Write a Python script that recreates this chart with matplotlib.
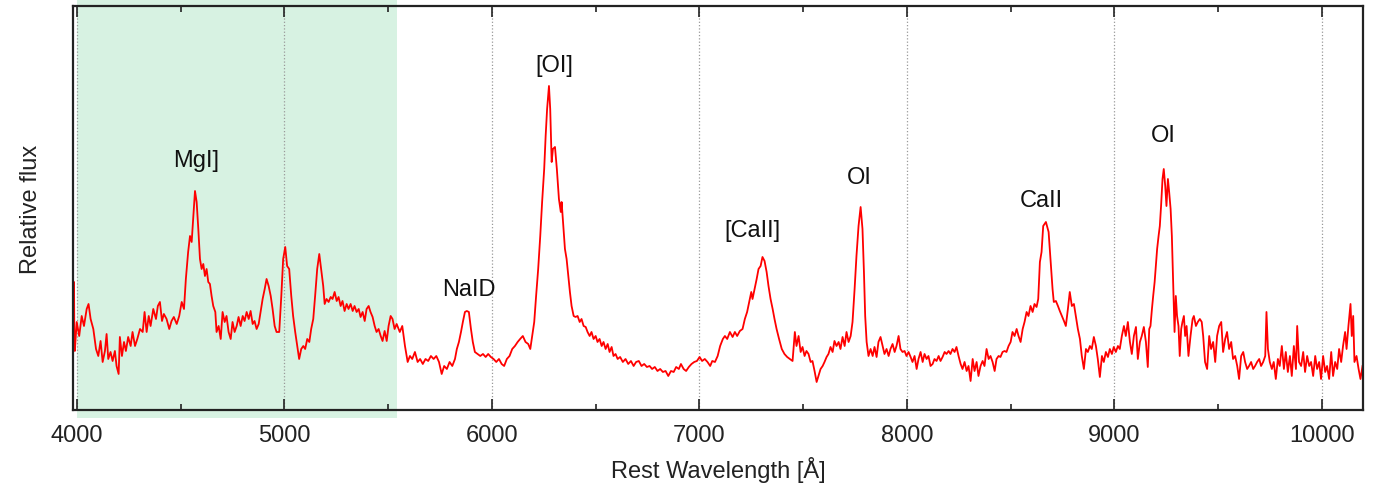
import numpy as np
import matplotlib
matplotlib.use('Agg')
import matplotlib.pyplot as plt
from matplotlib.patches import Rectangle
import matplotlib.transforms as mtransforms

plt.rcParams['font.family'] = ['Liberation Sans', 'DejaVu Sans']

# rest wavelength [A] and relative flux (arbitrary units)
wave = [3985, 3986, 3988, 3990, 3999, 4011, 4023, 4034, 4047, 4056, 4066, 4079, 4092,
        4103, 4114, 4124, 4135, 4143, 4151, 4162, 4172, 4183, 4191, 4201, 4207, 4217,
        4227, 4236, 4247, 4259, 4268, 4280, 4291, 4304, 4317, 4326, 4336, 4346, 4355,
        4368, 4381, 4390, 4400, 4410, 4419, 4432, 4445, 4456, 4467, 4481, 4493, 4505,
        4516, 4525, 4536, 4545, 4553, 4561, 4569, 4577, 4585, 4593, 4601, 4609, 4617,
        4625, 4633, 4641, 4649, 4657, 4667, 4673, 4683, 4693, 4702, 4712, 4721, 4731,
        4741, 4750, 4760, 4770, 4779, 4789, 4799, 4808, 4818, 4828, 4837, 4847, 4856,
        4866, 4876, 4885, 4895, 4905, 4914, 4924, 4934, 4943, 4953, 4962, 4975, 4985,
        4994, 5004, 5013, 5023, 5033, 5042, 5052, 5062, 5071, 5081, 5091, 5100, 5110,
        5120, 5129, 5139, 5148, 5158, 5168, 5177, 5187, 5194, 5203, 5213, 5223, 5232,
        5242, 5252, 5261, 5271, 5280, 5290, 5300, 5309, 5319, 5329, 5338, 5348, 5358,
        5367, 5377, 5387, 5396, 5406, 5415, 5425, 5435, 5444, 5454, 5464, 5473, 5483,
        5493, 5502, 5512, 5521, 5531, 5541, 5556, 5568, 5581, 5594, 5605, 5616, 5629,
        5642, 5654, 5667, 5680, 5693, 5706, 5719, 5732, 5745, 5758, 5770, 5783, 5796,
        5809, 5822, 5831, 5841, 5851, 5860, 5870, 5879, 5889, 5899, 5908, 5918, 5931,
        5944, 5957, 5970, 5982, 5995, 6008, 6021, 6034, 6047, 6059, 6072, 6085, 6098,
        6111, 6124, 6136, 6149, 6162, 6175, 6185, 6194, 6204, 6213, 6223, 6233, 6242,
        6252, 6259, 6266, 6275, 6281, 6288, 6294, 6304, 6313, 6323, 6332, 6336, 6344,
        6352, 6360, 6368, 6376, 6384, 6394, 6403, 6413, 6423, 6432, 6442, 6452, 6461,
        6471, 6480, 6490, 6500, 6509, 6519, 6529, 6538, 6548, 6558, 6567, 6577, 6586,
        6596, 6606, 6618, 6631, 6644, 6657, 6670, 6683, 6695, 6708, 6721, 6734, 6747,
        6760, 6772, 6785, 6798, 6811, 6824, 6837, 6850, 6863, 6876, 6888, 6901, 6911,
        6924, 6936, 6949, 6962, 6975, 6988, 7001, 7013, 7026, 7039, 7052, 7062, 7075,
        7088, 7100, 7113, 7123, 7134, 7147, 7160, 7171, 7182, 7195, 7208, 7219, 7230,
        7240, 7250, 7256, 7266, 7276, 7285, 7295, 7304, 7314, 7324, 7333, 7343, 7353,
        7362, 7372, 7384, 7397, 7410, 7423, 7436, 7449, 7460, 7468, 7478, 7488, 7497,
        7507, 7516, 7526, 7536, 7545, 7555, 7565, 7574, 7584, 7594, 7603, 7613, 7622,
        7632, 7642, 7651, 7661, 7671, 7680, 7690, 7700, 7709, 7719, 7729, 7738, 7748,
        7757, 7767, 7777, 7786, 7793, 7799, 7806, 7815, 7825, 7835, 7844, 7854, 7863,
        7873, 7883, 7892, 7902, 7912, 7921, 7931, 7941, 7950, 7960, 7969, 7979, 7989,
        7998, 8008, 8018, 8027, 8037, 8047, 8056, 8066, 8076, 8085, 8095, 8104, 8114,
        8124, 8133, 8143, 8153, 8162, 8172, 8182, 8191, 8201, 8210, 8220, 8230, 8239,
        8249, 8259, 8268, 8278, 8288, 8297, 8307, 8317, 8326, 8336, 8345, 8355, 8365,
        8374, 8384, 8394, 8403, 8413, 8423, 8432, 8442, 8451, 8461, 8471, 8480, 8490,
        8500, 8509, 8519, 8529, 8538, 8548, 8558, 8567, 8577, 8586, 8596, 8606, 8615,
        8625, 8633, 8641, 8649, 8657, 8670, 8683, 8692, 8702, 8708, 8718, 8728, 8737,
        8747, 8757, 8766, 8776, 8785, 8795, 8805, 8814, 8824, 8834, 8843, 8853, 8863,
        8872, 8882, 8891, 8901, 8911, 8920, 8930, 8940, 8949, 8959, 8969, 8978, 8988,
        8997, 9007, 9017, 9026, 9036, 9046, 9055, 9065, 9075, 9084, 9094, 9104, 9113,
        9123, 9132, 9142, 9152, 9161, 9168, 9174, 9181, 9187, 9194, 9200, 9206, 9213,
        9219, 9225, 9232, 9238, 9245, 9251, 9258, 9264, 9271, 9277, 9283, 9290, 9296,
        9302, 9309, 9315, 9322, 9328, 9335, 9341, 9348, 9357, 9367, 9377, 9383, 9393,
        9402, 9412, 9421, 9428, 9437, 9447, 9457, 9466, 9476, 9486, 9495, 9505, 9515,
        9524, 9534, 9543, 9553, 9563, 9572, 9582, 9592, 9601, 9611, 9621, 9630, 9640,
        9649, 9659, 9669, 9678, 9688, 9698, 9707, 9717, 9727, 9733, 9740, 9749, 9759,
        9768, 9778, 9788, 9797, 9807, 9817, 9826, 9836, 9846, 9855, 9865, 9875, 9881,
        9890, 9900, 9910, 9919, 9929, 9939, 9948, 9958, 9968, 9977, 9987, 9996, 10006,
        10016, 10025, 10035, 10045, 10054, 10064, 10074, 10083, 10093, 10102, 10112,
        10119, 10128, 10138, 10144, 10151, 10157, 10167, 10177, 10186, 10196]

flux = [70, 128, 60, 59, 88, 74, 94, 84, 101, 106, 91, 81, 61,
        54, 69, 48, 59, 76, 51, 58, 49, 59, 44, 36, 73, 54,
        68, 59, 73, 64, 78, 64, 71, 81, 78, 98, 78, 94, 84,
        101, 91, 104, 108, 89, 96, 91, 81, 89, 93, 86, 94, 108,
        101, 131, 158, 174, 168, 194, 219, 208, 181, 151, 141, 146, 134,
        141, 128, 126, 114, 104, 98, 78, 84, 71, 98, 88, 94, 78,
        71, 88, 78, 84, 93, 84, 94, 89, 98, 91, 99, 86, 89,
        81, 86, 98, 111, 121, 131, 124, 114, 101, 84, 78, 78, 114,
        151, 163, 144, 141, 114, 94, 78, 64, 51, 61, 64, 61, 71,
        68, 81, 91, 114, 141, 156, 141, 124, 106, 111, 108, 113, 111,
        118, 109, 113, 104, 109, 99, 106, 101, 106, 99, 104, 98, 101,
        93, 98, 89, 101, 104, 98, 93, 84, 78, 81, 74, 69, 79,
        69, 84, 94, 91, 81, 86, 78, 84, 64, 48, 54, 51, 58,
        48, 51, 46, 51, 49, 54, 51, 54, 48, 36, 44, 41, 48,
        44, 51, 61, 68, 78, 88, 98, 99, 98, 81, 68, 58, 56,
        54, 56, 53, 56, 53, 51, 48, 51, 46, 44, 51, 54, 61,
        64, 68, 71, 74, 68, 66, 61, 74, 88, 114, 141, 174, 208,
        241, 274, 301, 324, 301, 248, 261, 263, 241, 211, 198, 208, 184,
        161, 151, 134, 118, 104, 94, 93, 94, 88, 91, 84, 83, 78,
        74, 78, 71, 74, 68, 71, 64, 68, 61, 66, 58, 63, 54,
        56, 51, 53, 48, 51, 46, 49, 44, 48, 49, 44, 46, 43,
        44, 41, 43, 39, 41, 38, 39, 34, 39, 38, 43, 41, 46,
        41, 39, 43, 46, 48, 49, 53, 49, 51, 48, 44, 49, 48,
        54, 64, 71, 74, 71, 78, 73, 78, 74, 79, 81, 91, 98,
        108, 118, 111, 121, 131, 141, 144, 153, 149, 138, 124, 111, 101,
        91, 81, 71, 61, 56, 53, 51, 49, 78, 64, 74, 58, 63,
        54, 59, 56, 48, 49, 39, 28, 34, 41, 44, 48, 53, 56,
        63, 58, 69, 64, 68, 61, 73, 64, 78, 68, 74, 88, 121,
        154, 184, 203, 181, 138, 94, 68, 54, 61, 54, 63, 53, 68,
        73, 64, 56, 61, 54, 61, 66, 58, 64, 74, 61, 58, 59,
        54, 58, 53, 48, 54, 41, 51, 58, 48, 56, 51, 54, 44,
        46, 51, 49, 54, 49, 53, 58, 56, 59, 56, 61, 58, 63,
        54, 46, 41, 48, 39, 44, 29, 51, 39, 48, 34, 44, 49,
        44, 61, 51, 54, 48, 39, 51, 54, 53, 58, 59, 58, 64,
        68, 78, 74, 81, 74, 68, 81, 88, 98, 94, 104, 98, 106,
        103, 111, 148, 158, 184, 188, 178, 151, 121, 108, 109, 104, 99,
        94, 89, 84, 101, 118, 104, 106, 94, 81, 71, 54, 41, 61,
        58, 64, 61, 73, 64, 51, 33, 54, 48, 58, 53, 61, 56,
        63, 58, 64, 61, 74, 84, 74, 88, 68, 56, 74, 83, 51,
        68, 74, 83, 68, 43, 81, 84, 101, 114, 128, 144, 161, 174,
        184, 204, 231, 241, 224, 204, 231, 218, 201, 174, 128, 78, 114,
        94, 84, 54, 81, 88, 94, 74, 84, 54, 74, 91, 94, 84,
        88, 91, 88, 74, 48, 41, 74, 61, 68, 48, 74, 84, 88,
        58, 71, 78, 61, 68, 51, 54, 44, 31, 54, 58, 48, 41,
        44, 48, 41, 44, 48, 51, 44, 48, 54, 98, 61, 48, 41,
        48, 31, 51, 44, 64, 41, 58, 38, 54, 34, 64, 41, 84,
        48, 44, 58, 38, 54, 44, 48, 34, 54, 41, 48, 31, 54,
        38, 44, 31, 58, 34, 48, 41, 61, 48, 64, 78,
        61, 84, 106, 74, 94, 48, 54, 41, 31, 44]

line_labels = ['MgI]', 'NaID', '[OI]', '[CaII]', 'OI', 'CaII', 'OI']
label_wave = [4573, 5889, 6303, 7258, 7773, 8650, 9238]
label_flux = [250, 121, 345, 180, 233, 210, 275]

shade_lo, shade_hi = 4000, 5542

fig = plt.figure(figsize=(13.77, 4.85), dpi=100)
ax = fig.add_axes([0.053, 0.1526, 0.9368, 0.833])

trans = mtransforms.blended_transform_factory(ax.transData, ax.transAxes)
ax.add_patch(Rectangle((shade_lo, -0.02), shade_hi - shade_lo, 1.04, transform=trans,
                       facecolor='#d7f2e2', edgecolor='none', clip_on=False, zorder=0))

ax.plot(wave, flux, color='#ff0000', lw=1.3, zorder=3)

for lab, lx, ly in zip(line_labels, label_wave, label_flux):
    ax.text(lx, ly, lab, ha='center', va='center', fontsize=17, color='#111111')

ax.set_xlim(3981, 10198)
ax.set_ylim(0, 404)
ax.set_xticks(np.arange(4000, 10001, 1000))
ax.set_xticks(np.arange(4500, 10001, 1000), minor=True)
ax.set_yticks([])
ax.grid(axis='x', which='major', linestyle=':', color='#999999', lw=0.9, zorder=1)
ax.tick_params(axis='x', which='major', direction='in', length=8, width=1.2,
               top=True, labelsize=17, pad=10, colors='#222222')
ax.tick_params(axis='x', which='minor', direction='in', length=4, width=1.2, top=True,
               colors='#222222')
for sp in ax.spines.values():
    sp.set_linewidth(1.6)
    sp.set_color('#222222')
    sp.set_zorder(4)

ax.set_xlabel('Rest Wavelength [Å]', fontsize=17, labelpad=7, color='#222222')
ax.set_ylabel('Relative flux', fontsize=17, labelpad=22, color='#222222')

fig.savefig('out.png', dpi=100)
